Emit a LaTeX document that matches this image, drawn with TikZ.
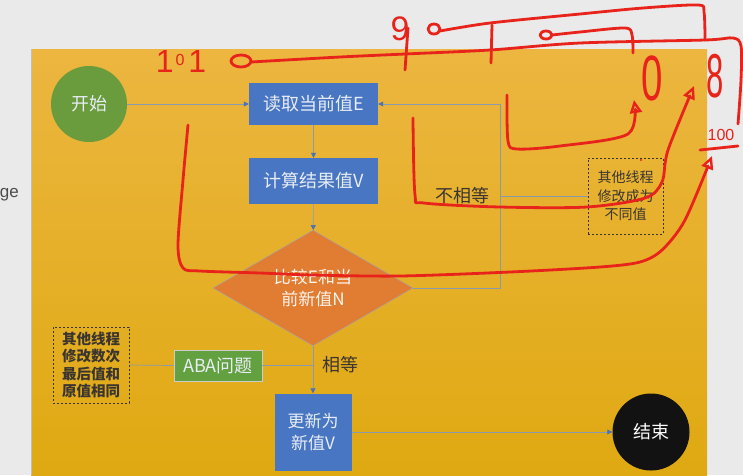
\documentclass[tikz,border=0pt]{standalone}
\usepackage{fontspec}
\setmainfont{Noto Sans CJK SC}
\newfontfamily\hand{Liberation Sans}
\usetikzlibrary{shapes.geometric,arrows.meta}
\newcommand\fsz[2]{\fontsize{#1}{#2}\selectfont}
\definecolor{bg}{HTML}{E9EAE9}
\definecolor{ytop}{HTML}{ECB640}
\definecolor{ybot}{HTML}{DFA912}
\definecolor{boxblue}{HTML}{4876C2}
\definecolor{boxgreen}{HTML}{62A040}
\definecolor{startgreen}{HTML}{6A9B3C}
\definecolor{dorange}{HTML}{E17C33}
\definecolor{connc}{HTML}{8A9AAE}
\definecolor{tipblue}{HTML}{4A72B6}
\definecolor{inkred}{HTML}{E8231B}
\definecolor{darktext}{HTML}{3A3530}
\definecolor{lighttext}{HTML}{E8EDF5}
\tikzset{
  bluebox/.style={fill=boxblue, text=lighttext, inner sep=0pt, minimum width=129pt, minimum height=42pt, align=center, font=\fsz{18}{22}},
  conn/.style={draw=connc, line width=0.7pt},
  arr/.style={conn, -{Triangle[length=5pt,width=5pt,color=tipblue]}},
  dashbox/.style={draw=darktext, dash pattern=on 2pt off 2pt, line width=0.8pt, inner sep=0pt, align=center, text=darktext},
  ink/.style={draw=inkred, line width=2.8pt, line cap=round, line join=round},
  inkarr/.style={ink, -{Triangle[open,length=13pt,width=12pt,line width=2.4pt]}},
  handtxt/.style={text=inkred, inner sep=0pt}
}
\begin{document}
\begin{tikzpicture}[x=1pt,y=-1pt]
\useasboundingbox (0,0) rectangle (743,475);
\fill[bg] (0,0) rectangle (743,475);
\shade[top color=ytop, bottom color=ybot] (31,49) rectangle (707,475);
\draw[black!25, line width=0.6pt] (31,49) -- (31,475);
\node[anchor=east, text=black!70, font=\hand\fsz{17}{20}, inner sep=0pt] (ge) at (19,195) {ge};

% nodes
\node[circle, fill=startgreen, minimum size=76pt, inner sep=0pt, text=lighttext, font=\fsz{18}{22}] (start) at (89,104) {开始};
\node[bluebox] (read) at (313.5,104) {读取当前值E};
\node[bluebox, minimum height=46pt] (calc) at (313.5,181) {计算结果值V};
\node[diamond, fill=dorange, draw=black!35, line width=0.5pt, minimum width=200pt, minimum height=104pt, inner sep=0pt, align=center, text=white!92!orange, font=\fsz{17}{22}] (cmp) at (313,288) {比较E和当\\前新值N};
\node[bluebox, minimum width=77pt, minimum height=77pt, font=\fsz{17}{22}] (upd) at (313,432) {更新为\\新值V};
\node[circle, fill=black!93, minimum size=77pt, inner sep=0pt, text=white!88, font=\fsz{18}{22}] (end) at (651,432) {结束};
\node[fill=boxgreen, draw=black!20, line width=0.4pt, minimum width=88pt, minimum height=31pt, inner sep=0pt, text=lighttext, font=\fsz{18}{22}] (aba) at (218,365.5) {ABA问题};
\node[dashbox, minimum width=75pt, minimum height=76pt, font=\fsz{14}{18.5}] (oth1) at (625.5,196) {其他线程\\修改成为\\不同值};
\node[dashbox, minimum width=76pt, minimum height=76pt, font=\bfseries\fsz{14.5}{17.5}] (oth2) at (91,365) {其他线程\\修改数次\\最后值和\\原值相同};
\node[text=darktext, font=\fsz{18}{22}, inner sep=0pt] (neq) at (462,196) {不相等};
\node[text=darktext, font=\fsz{18}{22}, inner sep=0pt] (eq) at (340,365) {相等};

% connectors
\draw[arr] (start) -- (read);
\draw[arr] (read) -- (calc);
\draw[arr] (calc) -- (cmp);
\draw[arr] (cmp) -- (upd);
\draw[arr] (upd) -- (end);
\coordinate (rt) at (500,288);
\coordinate (rb) at (500,104);
\draw[arr] (cmp.east) -- (rt) -- (rb) -- (read.east);
\coordinate (rm) at (500,196);
\draw[conn] (rm) -- (oth1.west);
\draw[conn] (oth2.east) -- (aba.west);
\coordinate (jn) at (313,365.5);
\draw[conn] (aba.east) -- (jn);

% red handwritten annotations
\node[handtxt, anchor=base] (n101) at (181,72) {\hand\fsz{32}{32}1\hspace{2pt}\raisebox{7pt}{\fsz{16}{16}0}\hspace{4pt}1};
\node[handtxt, anchor=base, font=\hand\fsz{34}{34}] (n9) at (400,40) {9};
\node[handtxt, anchor=base, xscale=0.6, font=\hand\fsz{64}{64}] (n0) at (652,100) {0};
\node[handtxt, anchor=base, xscale=0.5, font=\hand\fsz{62}{62}] (n8) at (715,97) {8};
\node[handtxt, anchor=base, font=\hand\fsz{16}{16}] (n100) at (721,140) {100};

\draw[ink] (241,61) ellipse [x radius=10, y radius=6];
\draw[ink] (434,29) ellipse [x radius=6, y radius=5];
\draw[ink] (546,35) ellipse [x radius=6, y radius=4];
\draw[ink] plot[smooth, tension=0.5] coordinates {(251,62) (340,57) (405,54) (490,50) (580,43) (705,40) (733,38) (741,46) (741,80) (738,124)};
\draw[ink] plot[smooth, tension=0.5] coordinates {(440,31) (490,23) (580,14) (643,8) (698,5) (704,12) (705,40)};
\draw[ink] plot[smooth, tension=0.5] coordinates {(552,35) (580,32) (625,28) (632,35) (633,53)};
\draw[ink] (492,25) -- (491,63);
\draw[ink] (408,28) -- (405,70);
\draw[ink] (700,150) -- (738,146);
\draw[inkarr] plot[smooth, tension=0.5] coordinates {(188,125) (183,180) (178,245) (183,268) (200,271) (260,273) (313,275) (400,276) (510,272) (600,267) (640,262) (662,250) (685,220) (712,156)};
\draw[inkarr] plot[smooth, tension=0.5] coordinates {(413,118) (415,195) (424,203) (500,207) (587,207) (645,198) (662,182) (668,150) (694,86)};
\draw[inkarr] plot[smooth, tension=0.5] coordinates {(507,95) (508,141) (517,149) (560,146) (628,134) (634,100)};
\fill[inkred] (641,160) circle (1.2);
\end{tikzpicture}
\end{document}
